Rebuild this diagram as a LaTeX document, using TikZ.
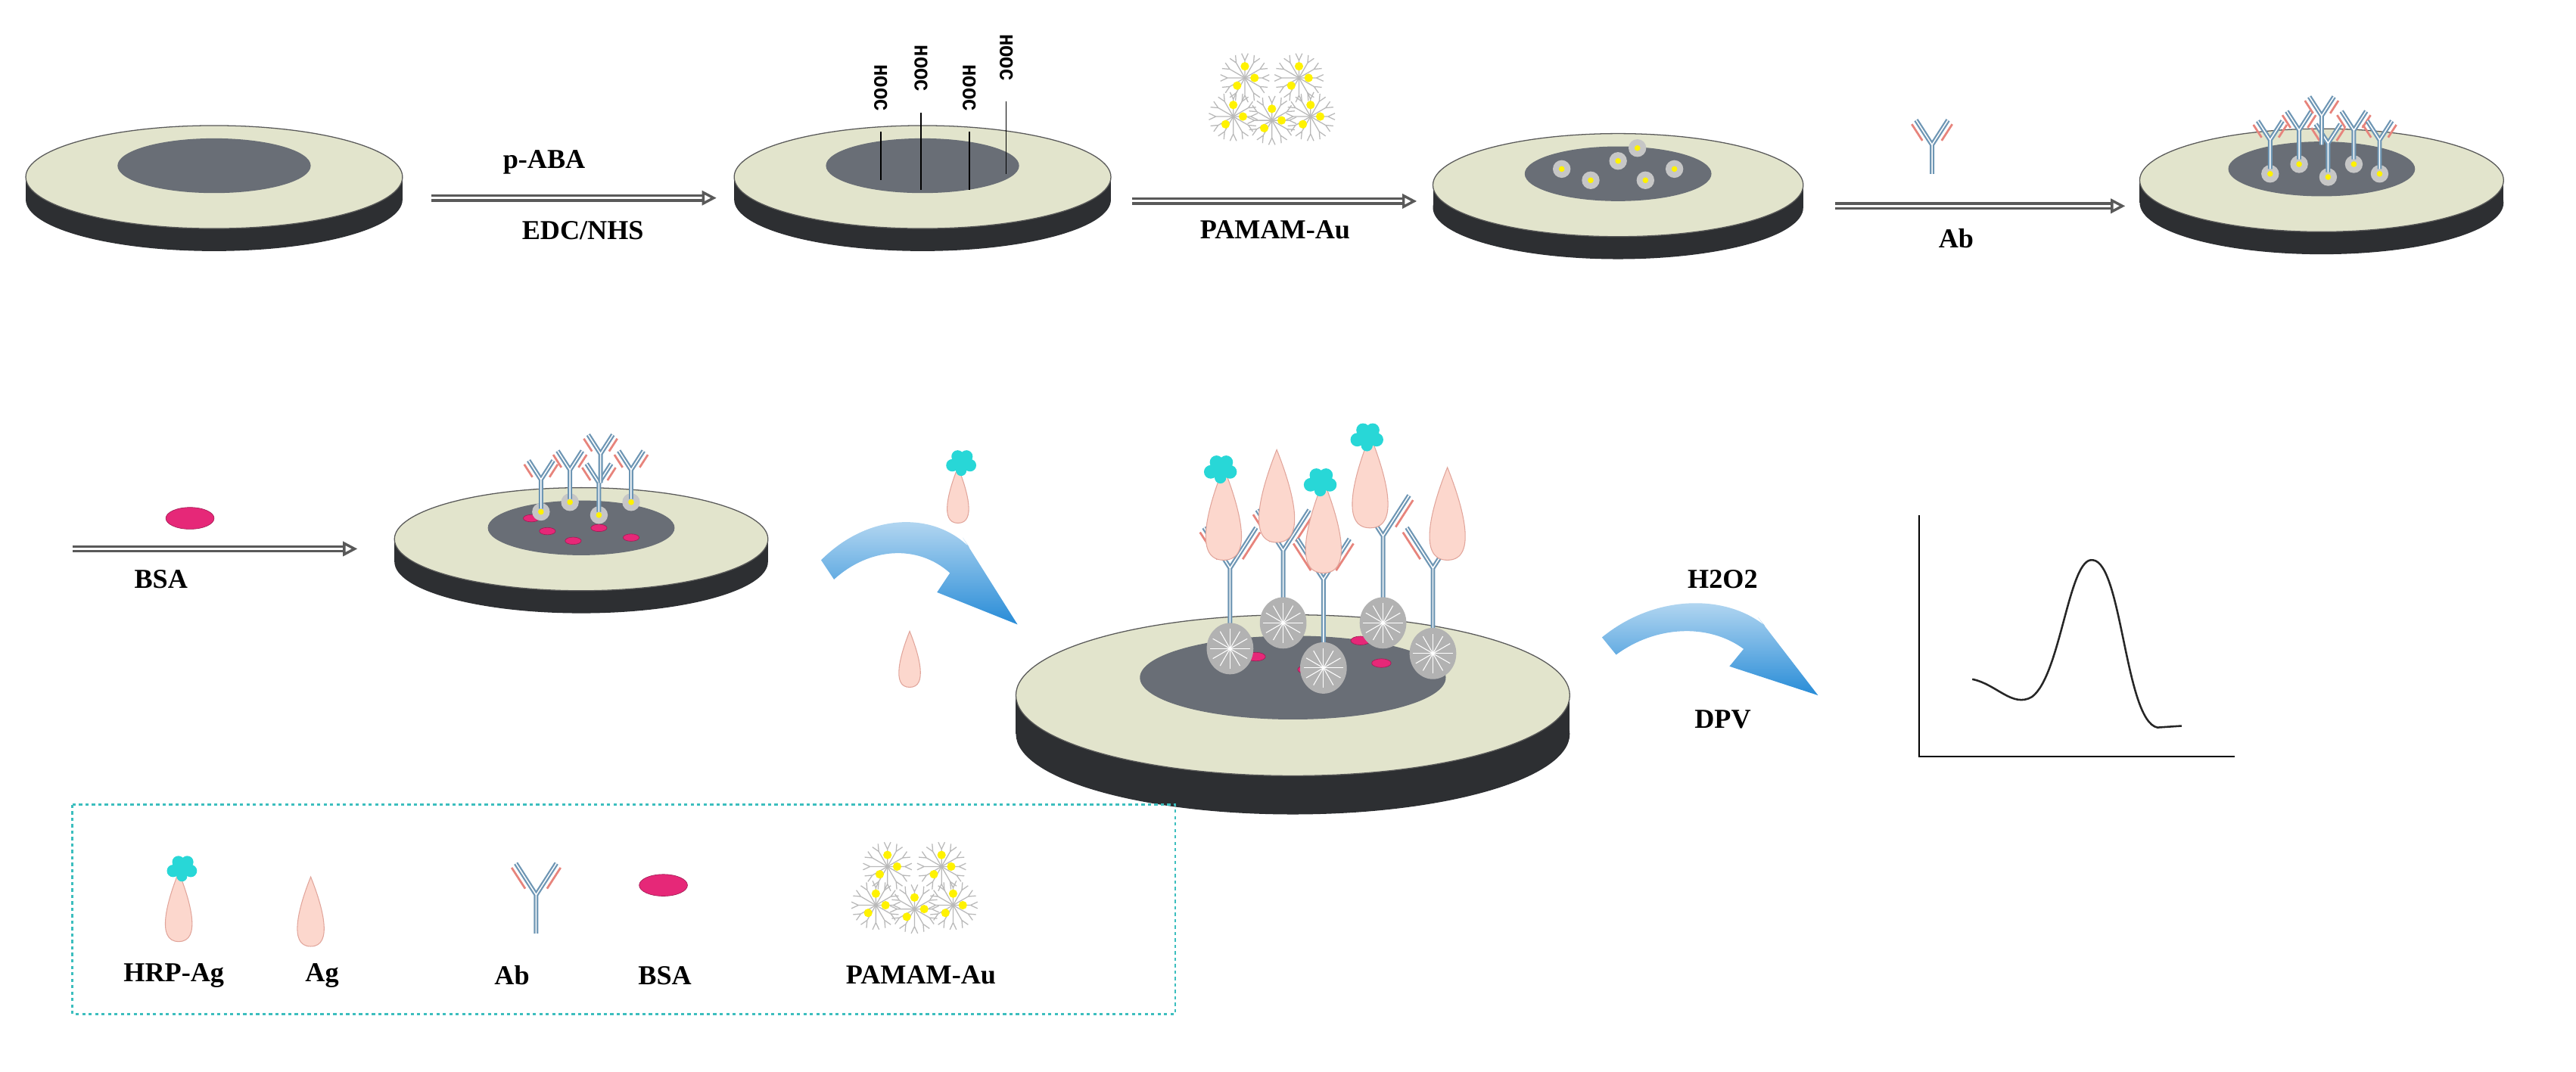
\documentclass[tikz,border=0pt]{standalone}
\usepackage{fontspec}
\setmainfont{Liberation Serif}
\newfontfamily\monof{Liberation Mono}
\usetikzlibrary{arrows.meta,shapes.geometric}
\definecolor{beige}{RGB}{226,228,204}
\definecolor{rimc}{RGB}{45,47,50}
\definecolor{innerc}{RGB}{105,110,118}
\definecolor{abblue}{RGB}{110,150,180}
\definecolor{pinkf}{RGB}{252,215,205}
\definecolor{pinko}{RGB}{225,165,155}
\definecolor{hrpc}{RGB}{40,215,215}
\definecolor{bsac}{RGB}{230,40,120}
\definecolor{arrowb}{RGB}{40,140,215}
\definecolor{teal}{RGB}{60,190,190}
\tikzset{
 lbl/.style={font=\bfseries\fontsize{17}{20}\selectfont,inner sep=0pt},
 cooh/.style={font=\monof\bfseries\fontsize{12}{14}\selectfont,rotate=-90,anchor=west,inner sep=0pt},
 proc/.style={draw=gray!70!black,line width=1.6pt,double=white,double distance=1.4pt,-{Triangle[open,length=9pt,width=9pt]}},
}
\newcommand{\mydisk}[7]{%
 \fill[rimc] (#1-#3,#2) rectangle (#1+#3,#2+#5);
 \fill[rimc] (#1,#2+#5) ellipse [x radius=#3,y radius=#4];
 \fill[beige,draw=gray!70!black,line width=0.6pt] (#1,#2) ellipse [x radius=#3,y radius=#4];
 \fill[innerc] (#1,#2-#4*0.22) ellipse [x radius=#6,y radius=#7];
}
% antibody: x ybottom yfork armscale
\newcommand{\myab}[4]{%
 \draw[pinko!80!red,line width=1.3pt] (#1-3-2.7*#4,#3+2-4.2*#4) -- ++(-6*#4,-9.3*#4) (#1+3+2.7*#4,#3+2-4.2*#4) -- ++(6*#4,-9.3*#4);
 \draw[abblue,line width=2.8pt] (#1,#2) -- (#1,#3) -- ++(-9*#4,-14*#4) (#1,#3) -- ++(9*#4,-14*#4);
 \draw[white,line width=0.7pt] (#1,#2) -- (#1,#3) -- ++(-9*#4,-14*#4) (#1,#3) -- ++(9*#4,-14*#4);}
\newcommand{\mydrop}[3]{%
 \fill[pinkf,draw=pinko,line width=0.5pt,shift={(#1,#2)},scale=#3] (0,0) .. controls (-8,0) and (-4,-14) .. (0,-24) .. controls (4,-14) and (8,0) .. (0,0) -- cycle;}
\newcommand{\myhrp}[3]{%
 \fill[hrpc,shift={(#1,#2)},scale=#3] (0,0) circle (5) (-5,1) circle (3.5) (5,1) circle (3.5) (-2,-4) circle (3.5) (3,-4) circle (3.5) (0,4) circle (3);}
\newcommand{\mydend}[3]{%
 \begin{scope}[shift={(#1,#2)},scale=#3]
 \fill[gray!60] (0,0) ellipse [x radius=10,y radius=11];
 \foreach \a in {0,30,...,330} \draw[white,line width=0.5pt] (0,0) -- (\a:8.5);
 \end{scope}}
\newcommand{\mysmallp}[2]{%
 \fill[gray!45] (#1,#2) circle (5.5); \fill[yellow] (#1,#2) circle (1.8);}
\newcommand{\mybsa}[3]{\fill[bsac,draw=bsac!70!black,line width=0.3pt] (#1,#2) ellipse [x radius=#3,y radius=#3*0.45];}
\newcommand{\mypamam}[3]{%
 \begin{scope}[shift={(#1,#2)},scale=#3]
 \foreach \cx/\cy in {-14/-8,14/-8,0/14,-20/12,20/12}{
  \foreach \a in {0,30,...,330} {\draw[gray!55,line width=0.6pt] (\cx,\cy) -- ++(\a:9) -- ++(\a+25:4) (\cx,\cy) ++(\a:9) -- ++(\a-25:4);}
  \fill[yellow] (\cx+5,\cy) circle (2.2) (\cx-4,\cy+4) circle (2.2) (\cx,\cy-6) circle (2.2);}
 \end{scope}}
\newcommand{\bluearrow}[4]{%
 \begin{scope}[shift={(#1,#2)},xscale=#3,yscale=#4]
 \shade[top color=white!70!arrowb,bottom color=arrowb]
  (0,0) .. controls (30,-30) and (70,-30) .. (92,-8) -- (88,-14) -- (122,40) -- (72,20) -- (80,8)
  .. controls (60,-10) and (30,-8) .. (8,12) -- cycle;
 \end{scope}}
\begin{document}
\begin{tikzpicture}[x=1pt,y=-1pt]
\useasboundingbox (0,0) rectangle (1600,665.6);
% Row 1
\mydisk{133}{110}{117}{32}{14}{60}{17}
\draw[proc] (268,123) -- (445,123);
\node[lbl] (t1) at (338,101) {p-ABA};
\node[lbl] (t2) at (362,143) {EDC/NHS};
\mydisk{573}{110}{117}{32}{14}{60}{17}
\foreach \x/\yt/\yb in {547/40/112,572/28/118,602/40/118,625/21/108}{\draw[line width=0.7pt] (\x,\yt+42) -- (\x,\yb);}
\node[cooh] (c1) at (547,40) {HOOC};
\node[cooh] (c2) at (572,28) {HOOC};
\node[cooh] (c3) at (602,40) {HOOC};
\node[cooh] (c4) at (625,21) {HOOC};
\draw[proc] (703,125) -- (880,125);
\mypamam{790}{58}{1.2}
\node[lbl] (t3) at (792,143) {PAMAM-Au};
\mydisk{1005}{115}{115}{32}{14}{58}{17}
\foreach \x/\y in {970/105,988/112,1005/100,1022/112,1040/105,1017/92}{\mysmallp{\x}{\y}}
\draw[proc] (1140,128) -- (1320,128);
\myab{1200}{108}{90}{1.1}
\node[lbl] (t4) at (1215,148) {Ab};
\mydisk{1442}{112}{113}{32}{14}{58}{17}
\foreach \x/\y in {1410/108,1428/102,1446/110,1462/102,1478/108}{\mysmallp{\x}{\y}}
\foreach \x/\y in {1410/105,1428/99,1446/107,1462/99,1478/105,1442/90}{\myab{\x}{\y}{\y-18}{0.85}}
% Row 2
\draw[proc] (45,341) -- (222,341);
\mybsa{118}{322}{15}
\node[lbl] (t5) at (100,360) {BSA};
\mydisk{361}{335}{116}{32}{14}{58}{17}
\foreach \x/\y in {340/330,356/336,372/328,392/334,330/322}{\mybsa{\x}{\y}{5}}
\foreach \x/\y in {336/318,354/312,372/320,392/312}{\mysmallp{\x}{\y}}
\foreach \x/\y in {336/316,354/310,372/318,392/310,373/300}{\myab{\x}{\y}{\y-18}{0.85}}
\bluearrow{510}{348}{1}{1}
\mydrop{595}{325}{1.45}
\myhrp{597}{288}{1.1}
\mydrop{565}{427}{1.45}
% big disk
\mydisk{803}{432}{172}{50}{24}{95}{26}
\foreach \x/\y in {780/408,845/398,858/412,812/416}{\mybsa{\x}{\y}{6}}
\myab{764}{390}{353}{1.8}
\myab{797}{374}{342}{1.8}
\myab{822}{400}{360}{1.8}
\myab{859}{374}{333}{1.8}
\myab{890}{392}{353}{1.8}
\foreach \x/\y in {797/387,859/387}{\mydend{\x}{\y}{1.45}}
\foreach \x/\y in {764/403,822/415,890/406}{\mydend{\x}{\y}{1.45}}
\mydrop{760}{348}{2.4}
\mydrop{793}{337}{2.4}
\mydrop{822}{356}{2.4}
\mydrop{851}{328}{2.4}
\mydrop{899}{348}{2.4}
\myhrp{758}{292}{1.2}
\myhrp{820}{300}{1.2}
\myhrp{849}{272}{1.2}
\bluearrow{995}{396}{1.1}{0.9}
\node[lbl] (h2o2) at (1070,360) {H2O2};
\node[lbl] (dpv) at (1070,447) {DPV};
% graph
\coordinate (ax0) at (1192,320);
\coordinate (axo) at (1192,470);
\coordinate (ax1) at (1388,470);
\draw[line width=0.8pt] (ax0) -- (axo) -- (ax1);
\draw[line width=1.2pt,gray!30!black] (1225,422) .. controls (1240,425) and (1250,440) .. (1262,433)
 .. controls (1280,420) and (1285,345) .. (1300,348) .. controls (1318,350) and (1320,448) .. (1340,452) -- (1355,451);
% legend
\draw[teal,line width=1.3pt,dash pattern=on 2pt off 2pt] (45,500) rectangle (730,630);
\mydrop{111}{585}{1.8}
\myhrp{113}{540}{1.1}
\mydrop{193}{588}{1.8}
\myab{333}{580}{556}{1.4}
\mybsa{412}{550}{15}
\mypamam{568}{548}{1.2}
\node[lbl] (l1) at (108,606) {HRP-Ag};
\node[lbl] (l2) at (200,606) {Ag};
\node[lbl] (l3) at (318,606) {Ab};
\node[lbl] (l4) at (413,606) {BSA};
\node[lbl] (l5) at (572,606) {PAMAM-Au};
\end{tikzpicture}
\end{document}
